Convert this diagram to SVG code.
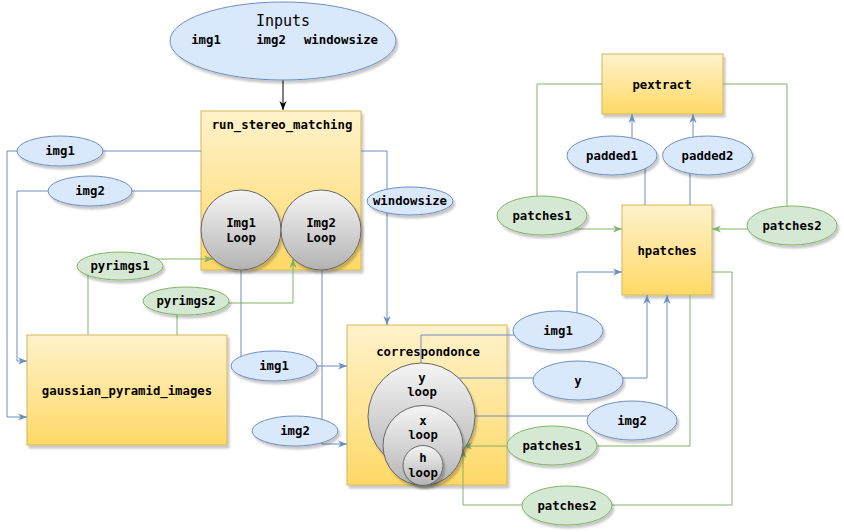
<svg xmlns="http://www.w3.org/2000/svg" width="844" height="532" viewBox="0 0 844 532">
<defs>
<linearGradient id="gy" x1="0" y1="0" x2="0" y2="1"><stop offset="0" stop-color="#fff2cc"/><stop offset="1" stop-color="#ffd966"/></linearGradient>
<linearGradient id="gg" x1="0" y1="0" x2="0" y2="1"><stop offset="0" stop-color="#f5f5f5"/><stop offset="1" stop-color="#b3b3b3"/></linearGradient>
<filter id="sh" x="-20%" y="-20%" width="140%" height="140%"><feDropShadow dx="2" dy="3" stdDeviation="1.2" flood-color="#000" flood-opacity="0.22"/></filter>
<marker id="ab" viewBox="0 0 10 10" refX="10" refY="5" markerWidth="9" markerHeight="9" markerUnits="userSpaceOnUse" orient="auto"><path d="M0,1 L10,5 L0,9 L3,5 z" fill="#6c8ebf"/></marker>
<marker id="ag" viewBox="0 0 10 10" refX="10" refY="5" markerWidth="9" markerHeight="9" markerUnits="userSpaceOnUse" orient="auto"><path d="M0,1 L10,5 L0,9 L3,5 z" fill="#82b366"/></marker>
<marker id="ak" viewBox="0 0 10 10" refX="10" refY="5" markerWidth="9" markerHeight="9" markerUnits="userSpaceOnUse" orient="auto"><path d="M0,1 L10,5 L0,9 L3,5 z" fill="#000"/></marker>
</defs>
<style>
text{font-family:"DejaVu Sans Mono","Liberation Mono",monospace;font-size:12.3px;font-weight:bold;fill:#000;text-anchor:middle;dominant-baseline:central}
.box{fill:url(#gy);stroke:#d6b656;stroke-width:1;filter:url(#sh)}
.cir{fill:url(#gg);stroke:#666;stroke-width:1;filter:url(#sh)}
.eb{fill:#dae8fc;stroke:#6c8ebf;stroke-width:1;filter:url(#sh)}
.eg{fill:#d5e8d4;stroke:#82b366;stroke-width:1;filter:url(#sh)}
.cb{fill:none;stroke:#6c8ebf;stroke-width:1}
.cg{fill:none;stroke:#82b366;stroke-width:1}
.ck{fill:none;stroke:#000;stroke-width:1}
</style>
<rect width="844" height="532" fill="#fff"/>
<g id="run_stereo_matching"><rect class="box" x="201" y="111" width="160" height="159"/><text x="282" y="125">run_stereo_matching</text></g>
<g id="gaussian_pyramid_images"><rect class="box" x="27" y="335" width="200" height="110"/><text x="127" y="391">gaussian_pyramid_images</text></g>
<g id="correspondonce"><rect class="box" x="347" y="325" width="160" height="160"/><text x="428" y="352">correspondonce</text></g>
<g id="pextract"><rect class="box" x="602" y="54" width="121" height="60"/><text x="662" y="85">pextract</text></g>
<g id="hpatches"><rect class="box" x="622" y="205" width="90" height="90"/><text x="667" y="251">hpatches</text></g>
<g id="connectors">
<path class="ck" d="M283,80 V110" marker-end="url(#ak)"/>
<path class="cb" d="M201,151 H7 V417 H27" marker-end="url(#ab)"/>
<path class="cb" d="M201,191 H17 V361 H27" marker-end="url(#ab)"/>
<path class="cb" d="M361,151 H387 V325" marker-end="url(#ab)"/>
<path class="cg" d="M88,335 V259 H213" marker-end="url(#ag)"/>
<path class="cg" d="M177,335 V303 H293 V259" marker-end="url(#ag)"/>
<path class="cb" d="M241,270 V366 H347" marker-end="url(#ab)"/>
<path class="cb" d="M322,270 V444 H347" marker-end="url(#ab)"/>
<path class="cb" d="M645,205 V155 H632 V114" marker-end="url(#ab)"/>
<path class="cb" d="M690,205 V155 H693 V114" marker-end="url(#ab)"/>
<path class="cg" d="M602,84 H537 V229 H622" marker-end="url(#ag)"/>
<path class="cg" d="M723,84 H787 V229 H712" marker-end="url(#ag)"/>
<path class="cb" d="M421,363 V335 H577 V272 H622" marker-end="url(#ab)"/>
<path class="cb" d="M459,378 H647 V295" marker-end="url(#ab)"/>
<path class="cb" d="M475,416 H667 V295" marker-end="url(#ab)"/>
<path class="cg" d="M690,295 V446 H463" marker-end="url(#ag)"/>
<path class="cg" d="M712,272 H732 V505 H463 V449" marker-end="url(#ag)"/>
</g>
<g id="inputs"><ellipse class="eb" cx="283" cy="41" rx="113" ry="39"/><text x="283" y="21" style="font-size:15px;font-weight:normal">Inputs</text><text x="206" y="40">img1</text><text x="271" y="40">img2</text><text x="341" y="40">windowsize</text></g>
<g id="img1_loop"><circle class="cir" cx="241" cy="230" r="40"/><text x="241" y="223">Img1</text><text x="241" y="238">Loop</text></g>
<g id="img2_loop"><circle class="cir" cx="321" cy="230" r="40"/><text x="321" y="223">Img2</text><text x="321" y="238">Loop</text></g>
<g id="y_loop"><circle class="cir" cx="421.5" cy="416.5" r="53.5"/><text x="422" y="378">y</text><text x="422" y="392">loop</text></g>
<g id="x_loop"><circle class="cir" cx="423" cy="445.5" r="40"/><text x="423" y="421">x</text><text x="423" y="435">loop</text></g>
<g id="h_loop"><circle class="cir" cx="423" cy="465.5" r="20"/><text x="423" y="458">h</text><text x="423" y="473">loop</text></g>
<g id="lbl_img1_a"><ellipse class="eb" cx="60" cy="151" rx="43" ry="15"/><text x="60" y="151">img1</text></g>
<g id="lbl_img2_a"><ellipse class="eb" cx="90" cy="191" rx="42" ry="15"/><text x="90" y="191">img2</text></g>
<g id="lbl_windowsize"><ellipse class="eb" cx="410" cy="201" rx="43" ry="14"/><text x="410" y="201">windowsize</text></g>
<g id="lbl_pyrimgs1"><ellipse class="eg" cx="120" cy="266" rx="43" ry="14"/><text x="120" y="266">pyrimgs1</text></g>
<g id="lbl_pyrimgs2"><ellipse class="eg" cx="186" cy="301" rx="43" ry="14"/><text x="186" y="301">pyrimgs2</text></g>
<g id="lbl_img1_b"><ellipse class="eb" cx="274" cy="366" rx="43" ry="15"/><text x="274" y="366">img1</text></g>
<g id="lbl_img2_b"><ellipse class="eb" cx="295" cy="431" rx="43" ry="15"/><text x="295" y="431">img2</text></g>
<g id="lbl_padded1"><ellipse class="eb" cx="612" cy="155.5" rx="45" ry="19.5"/><text x="612" y="155.5">padded1</text></g>
<g id="lbl_padded2"><ellipse class="eb" cx="707.5" cy="155.5" rx="45" ry="19.5"/><text x="707.5" y="155.5">padded2</text></g>
<g id="lbl_patches1_a"><ellipse class="eg" cx="542" cy="215.5" rx="45" ry="19.5"/><text x="542" y="215.5">patches1</text></g>
<g id="lbl_patches2_a"><ellipse class="eg" cx="792" cy="225.5" rx="45" ry="19.5"/><text x="792" y="225.5">patches2</text></g>
<g id="lbl_img1_c"><ellipse class="eb" cx="558" cy="330.5" rx="45" ry="19.5"/><text x="558" y="330.5">img1</text></g>
<g id="lbl_y"><ellipse class="eb" cx="578" cy="380.5" rx="45" ry="19.5"/><text x="578" y="380.5">y</text></g>
<g id="lbl_img2_c"><ellipse class="eb" cx="632" cy="420.5" rx="45" ry="19.5"/><text x="632" y="420.5">img2</text></g>
<g id="lbl_patches1_b"><ellipse class="eg" cx="552" cy="445.5" rx="45" ry="19.5"/><text x="552" y="445.5">patches1</text></g>
<g id="lbl_patches2_b"><ellipse class="eg" cx="567" cy="505.5" rx="45" ry="19.5"/><text x="567" y="505.5">patches2</text></g>
</svg>
